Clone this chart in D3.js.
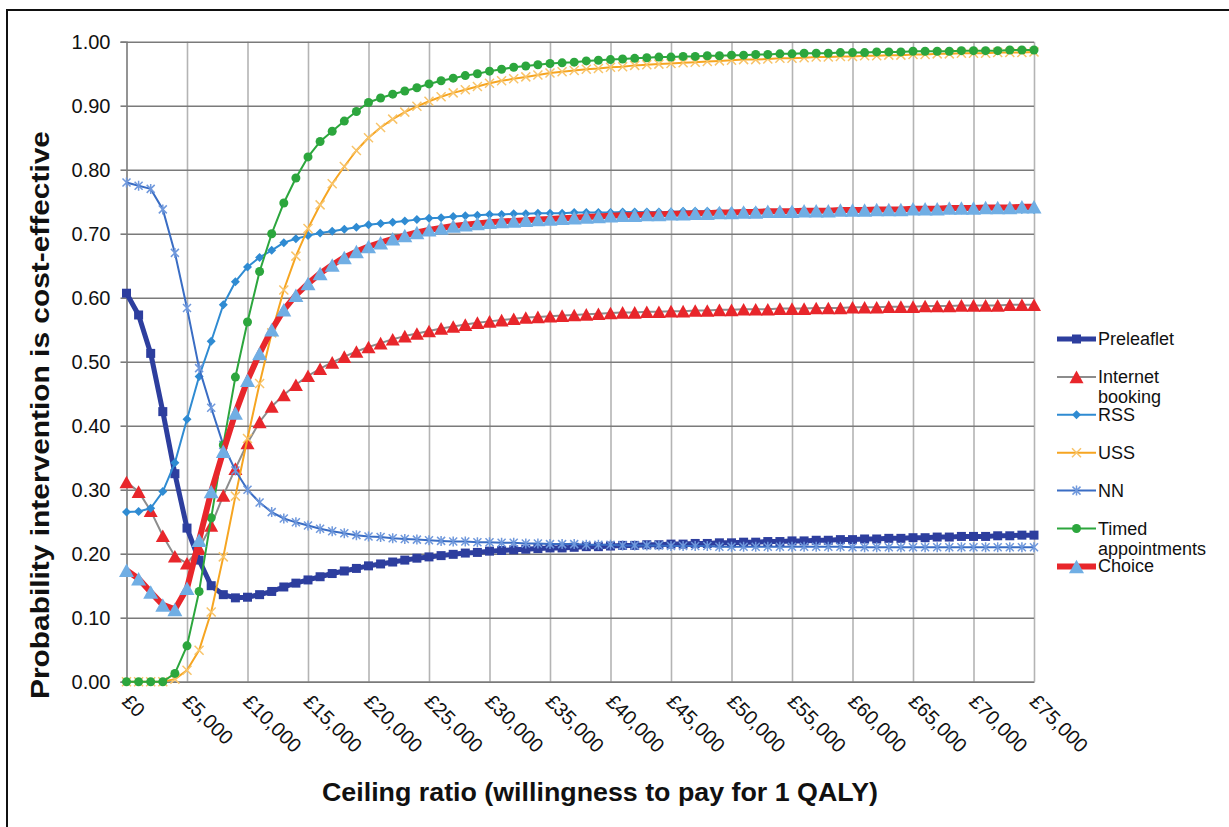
<!DOCTYPE html>
<html><head><meta charset="utf-8">
<script src="https://cdn.jsdelivr.net/npm/d3@7"></script>
<style>
html,body{margin:0;padding:0;background:#fff;}
svg{display:block;font-family:"Liberation Sans",Arial,sans-serif;}
</style></head>
<body>
<svg id="chart" width="1229" height="827"></svg>
<script>
// ---------------- DATA ----------------
const ceilingRatios = [0,1000,2000,3000,4000,5000,6000,7000,8000,9000,10000,11000,12000,13000,14000,15000,16000,17000,18000,19000,20000,21000,22000,23000,24000,25000,26000,27000,28000,29000,30000,31000,32000,33000,34000,35000,36000,37000,38000,39000,40000,41000,42000,43000,44000,45000,46000,47000,48000,49000,50000,51000,52000,53000,54000,55000,56000,57000,58000,59000,60000,61000,62000,63000,64000,65000,66000,67000,68000,69000,70000,71000,72000,73000,74000,75000];

const preleaflet = [0.607,0.573,0.513,0.422,0.325,0.240,0.190,0.150,0.136,0.131,0.132,0.136,0.141,0.148,0.154,0.159,0.164,0.169,0.173,0.177,0.181,0.184,0.187,0.190,0.193,0.195,0.197,0.199,0.201,0.202,0.204,0.205,0.206,0.207,0.208,0.209,0.209,0.210,0.211,0.211,0.212,0.213,0.213,0.214,0.214,0.215,0.215,0.216,0.216,0.217,0.217,0.218,0.218,0.219,0.219,0.220,0.220,0.221,0.221,0.222,0.222,0.223,0.223,0.224,0.224,0.225,0.225,0.226,0.226,0.227,0.227,0.227,0.228,0.228,0.229,0.229];

const internetBooking = [0.312,0.297,0.267,0.228,0.196,0.185,0.208,0.244,0.291,0.333,0.373,0.406,0.430,0.448,0.464,0.478,0.489,0.499,0.508,0.516,0.523,0.529,0.535,0.540,0.544,0.548,0.552,0.555,0.558,0.561,0.563,0.565,0.567,0.569,0.570,0.571,0.572,0.573,0.574,0.575,0.576,0.577,0.577,0.578,0.578,0.579,0.579,0.580,0.580,0.581,0.581,0.582,0.582,0.582,0.583,0.583,0.583,0.584,0.584,0.584,0.585,0.585,0.585,0.586,0.586,0.586,0.587,0.587,0.587,0.588,0.588,0.588,0.588,0.589,0.589,0.589];

const rss = [0.265,0.266,0.271,0.297,0.342,0.410,0.477,0.532,0.589,0.625,0.648,0.663,0.674,0.686,0.692,0.697,0.701,0.704,0.707,0.710,0.714,0.716,0.718,0.720,0.722,0.724,0.725,0.727,0.728,0.729,0.730,0.730,0.731,0.731,0.732,0.732,0.732,0.733,0.733,0.733,0.733,0.734,0.734,0.734,0.734,0.734,0.735,0.735,0.735,0.735,0.735,0.735,0.736,0.736,0.736,0.736,0.736,0.736,0.736,0.736,0.736,0.737,0.737,0.737,0.737,0.737,0.737,0.737,0.737,0.737,0.737,0.738,0.738,0.738,0.738,0.738];

const uss = [0,0,0,0,0.004,0.018,0.049,0.109,0.195,0.290,0.380,0.466,0.545,0.612,0.665,0.708,0.745,0.778,0.805,0.830,0.850,0.866,0.879,0.890,0.899,0.907,0.914,0.920,0.925,0.930,0.935,0.939,0.942,0.945,0.948,0.951,0.953,0.955,0.957,0.958,0.960,0.961,0.963,0.964,0.965,0.966,0.967,0.968,0.969,0.970,0.971,0.972,0.972,0.973,0.974,0.974,0.975,0.976,0.976,0.977,0.977,0.978,0.978,0.979,0.979,0.980,0.980,0.981,0.981,0.982,0.982,0.982,0.983,0.983,0.983,0.984];

const nn = [0.780,0.775,0.770,0.738,0.670,0.584,0.490,0.428,0.370,0.330,0.300,0.280,0.265,0.255,0.249,0.244,0.239,0.235,0.232,0.229,0.227,0.226,0.224,0.223,0.222,0.221,0.220,0.219,0.219,0.218,0.218,0.217,0.217,0.216,0.216,0.215,0.215,0.215,0.214,0.214,0.214,0.213,0.213,0.213,0.213,0.212,0.212,0.212,0.212,0.211,0.211,0.211,0.211,0.211,0.211,0.211,0.211,0.211,0.211,0.211,0.210,0.210,0.210,0.210,0.210,0.210,0.210,0.210,0.210,0.210,0.210,0.210,0.210,0.210,0.210,0.210];

const timedAppointments = [0,0,0,0,0.013,0.056,0.141,0.256,0.370,0.476,0.562,0.641,0.700,0.748,0.787,0.820,0.844,0.860,0.876,0.891,0.905,0.912,0.918,0.923,0.928,0.934,0.939,0.943,0.947,0.950,0.954,0.957,0.960,0.962,0.964,0.966,0.967,0.968,0.970,0.971,0.972,0.973,0.974,0.975,0.976,0.976,0.977,0.977,0.978,0.978,0.979,0.979,0.980,0.980,0.981,0.981,0.982,0.982,0.982,0.983,0.983,0.983,0.984,0.984,0.984,0.985,0.985,0.985,0.985,0.986,0.986,0.986,0.986,0.987,0.987,0.987];

const choice = [0.174,0.161,0.140,0.120,0.113,0.146,0.221,0.297,0.360,0.420,0.471,0.513,0.550,0.581,0.604,0.622,0.638,0.651,0.663,0.672,0.680,0.686,0.692,0.697,0.702,0.706,0.709,0.712,0.714,0.716,0.718,0.719,0.720,0.721,0.722,0.723,0.724,0.725,0.726,0.727,0.728,0.729,0.729,0.730,0.730,0.731,0.731,0.732,0.732,0.733,0.733,0.734,0.734,0.735,0.735,0.735,0.736,0.736,0.736,0.737,0.737,0.737,0.738,0.738,0.738,0.739,0.739,0.739,0.740,0.740,0.740,0.741,0.741,0.741,0.742,0.742];

const seriesNames = ["Preleaflet","Internet booking","RSS","USS","NN","Timed appointments","Choice"];
const legendLabels = [["Preleaflet"],["Internet","booking"],["RSS"],["USS"],["NN"],["Timed","appointments"],["Choice"]];
const yTickValues = [0,0.1,0.2,0.3,0.4,0.5,0.6,0.7,0.8,0.9,1.0];
const xTickValues = [0,5000,10000,15000,20000,25000,30000,35000,40000,45000,50000,55000,60000,65000,70000,75000];
const xTickLabels = ["£0","£5,000","£10,000","£15,000","£20,000","£25,000","£30,000","£35,000","£40,000","£45,000","£50,000","£55,000","£60,000","£65,000","£70,000","£75,000"];
const xTitle = "Ceiling ratio (willingness to pay for 1 QALY)";
const yTitle = "Probability intervention is cost-effective";

// ---------------- STYLES ----------------
const styles = [
  {line:"#2D3E9E", lw:5,   marker:"square",   ms:9,  fill:"#2D3E9E", stroke:null},
  {line:"#8C8C8C", lw:2,   marker:"triangle", ms:14, fill:"#E8262B", stroke:null},
  {line:"#2F8BD2", lw:2,   marker:"diamond",  ms:9,  fill:"#2F8BD2", stroke:null},
  {line:"#F6A521", lw:2,   marker:"x",        ms:9,  fill:"none",    stroke:"#F8C46A"},
  {line:"#3A6DC4", lw:2,   marker:"star",     ms:10, fill:"none",    stroke:"#6F98DC"},
  {line:"#2CA63D", lw:2,   marker:"circle",   ms:9,  fill:"#2CA63D", stroke:null},
  {line:"#E8262B", lw:6,   marker:"triangle", ms:15, fill:"#70AEE4", stroke:null}
];
const seriesValues = [preleaflet, internetBooking, rss, uss, nn, timedAppointments, choice];

function markerPath(type, s){
  const h = s/2;
  switch(type){
    case "square": return `M${-h},${-h}h${s}v${s}h${-s}Z`;
    case "triangle": { const th = s*0.9; return `M0,${-th/2}L${h},${th/2}L${-h},${th/2}Z`; }
    case "diamond": return `M0,${-h}L${h},0L0,${h}L${-h},0Z`;
    case "circle": return `M${-h},0A${h},${h} 0 1,0 ${h},0A${h},${h} 0 1,0 ${-h},0Z`;
    case "x": return `M${-h},${-h}L${h},${h}M${h},${-h}L${-h},${h}`;
    case "star": return `M${-h*0.8},${-h*0.8}L${h*0.8},${h*0.8}M${h*0.8},${-h*0.8}L${-h*0.8},${h*0.8}M0,${-h}L0,${h}`;
  }
}

// ---------------- CHART ----------------
const svg = d3.select("#chart");
const pLeft = 126.5, pRight = 1034, pTop = 41.7, pBottom = 681.7;
const x = d3.scaleLinear().domain([0,75000]).range([pLeft,pRight]);
const y = d3.scaleLinear().domain([0,1]).range([pBottom,pTop]);

// outer frame
svg.append("rect").attr("x",7).attr("y",10).attr("width",1240).attr("height",840)
  .attr("fill","none").attr("stroke","#111").attr("stroke-width",2);

// vertical gridlines
const xGrid = svg.append("g").attr("transform",`translate(0,${pBottom})`)
  .call(d3.axisBottom(x).tickValues(xTickValues.slice(1)).tickSize(-(pBottom-pTop)).tickFormat(""));
xGrid.select(".domain").remove();
xGrid.selectAll("line").attr("stroke","#B4B4B4").attr("stroke-width",1.6);

// horizontal gridlines
const yGrid = svg.append("g").attr("transform",`translate(${pLeft},0)`)
  .call(d3.axisLeft(y).tickValues(yTickValues).tickSize(-(pRight-pLeft)).tickFormat(""));
yGrid.select(".domain").remove();
yGrid.selectAll("line").attr("stroke","#7A7A7A").attr("stroke-width",1.6);

// y axis with ticks and labels
const yAxis = svg.append("g").attr("transform",`translate(${pLeft},0)`)
  .call(d3.axisLeft(y).tickValues(yTickValues).tickSize(6).tickPadding(10).tickFormat(d3.format(".2f")));
yAxis.select(".domain").attr("stroke","#7A7A7A").attr("stroke-width",1.6);
yAxis.selectAll("line").attr("stroke","#7A7A7A").attr("stroke-width",1.6);
yAxis.selectAll("text").attr("fill","#111").style("font-size","20px");

// x axis labels
const xAxis = svg.append("g").attr("transform",`translate(0,${pBottom})`)
  .call(d3.axisBottom(x).tickValues(xTickValues).tickSize(0).tickFormat((d,i)=>xTickLabels[i]));
xAxis.select(".domain").attr("stroke","#7A7A7A").attr("stroke-width",1.6);
xAxis.selectAll("text")
  .attr("x",0).attr("y",0).attr("dy",0)
  .attr("transform","translate(-6,21) rotate(45)")
  .style("text-anchor","start").style("font-size","20px").attr("fill","#111");

// series
const line = d3.line().x((d,i)=>x(ceilingRatios[i])).y(d=>y(d));
seriesValues.forEach((vals,si)=>{
  const st = styles[si];
  const g = svg.append("g").attr("class","series");
  g.append("path").datum(vals).attr("d",line).attr("fill","none")
    .attr("stroke",st.line).attr("stroke-width",st.lw).attr("stroke-linejoin","round");
  g.selectAll("path.m").data(vals).join("path").attr("class","m")
    .attr("transform",(d,i)=>`translate(${x(ceilingRatios[i])},${y(d)})`)
    .attr("d",markerPath(st.marker,st.ms))
    .attr("fill",st.fill)
    .attr("stroke",st.stroke||"none").attr("stroke-width",st.stroke?1.5:0);
});

// legend
const legX1 = 1057, legX2 = 1096, legTextX = 1098, legY0 = 339, legStep = 37.9;
seriesNames.forEach((name,si)=>{
  const st = styles[si];
  const ly = legY0 + si*legStep;
  const g = svg.append("g");
  g.append("line").attr("x1",legX1).attr("x2",legX2).attr("y1",ly).attr("y2",ly)
    .attr("stroke",st.line).attr("stroke-width",st.lw);
  g.append("path").attr("transform",`translate(${(legX1+legX2)/2},${ly})`)
    .attr("d",markerPath(st.marker,st.ms)).attr("fill",st.fill)
    .attr("stroke",st.stroke||"none").attr("stroke-width",st.stroke?1.5:0);
  const t = g.append("text").attr("x",legTextX).attr("y",ly+6)
    .style("font-size","18px").attr("fill","#111");
  legendLabels[si].forEach((ln,li)=>{
    t.append("tspan").attr("x",legTextX).attr("dy",li===0?0:20).text(ln);
  });
});

// titles
svg.append("text").attr("x",600).attr("y",801).attr("text-anchor","middle")
  .attr("textLength",556).attr("lengthAdjust","spacingAndGlyphs")
  .style("font-size","25px").style("font-weight","bold").attr("fill","#111").text(xTitle);
svg.append("text").attr("transform","translate(49,415) rotate(-90)").attr("text-anchor","middle")
  .attr("textLength",568).attr("lengthAdjust","spacingAndGlyphs")
  .style("font-size","26px").style("font-weight","bold").attr("fill","#111").text(yTitle);
</script>
</body></html>
